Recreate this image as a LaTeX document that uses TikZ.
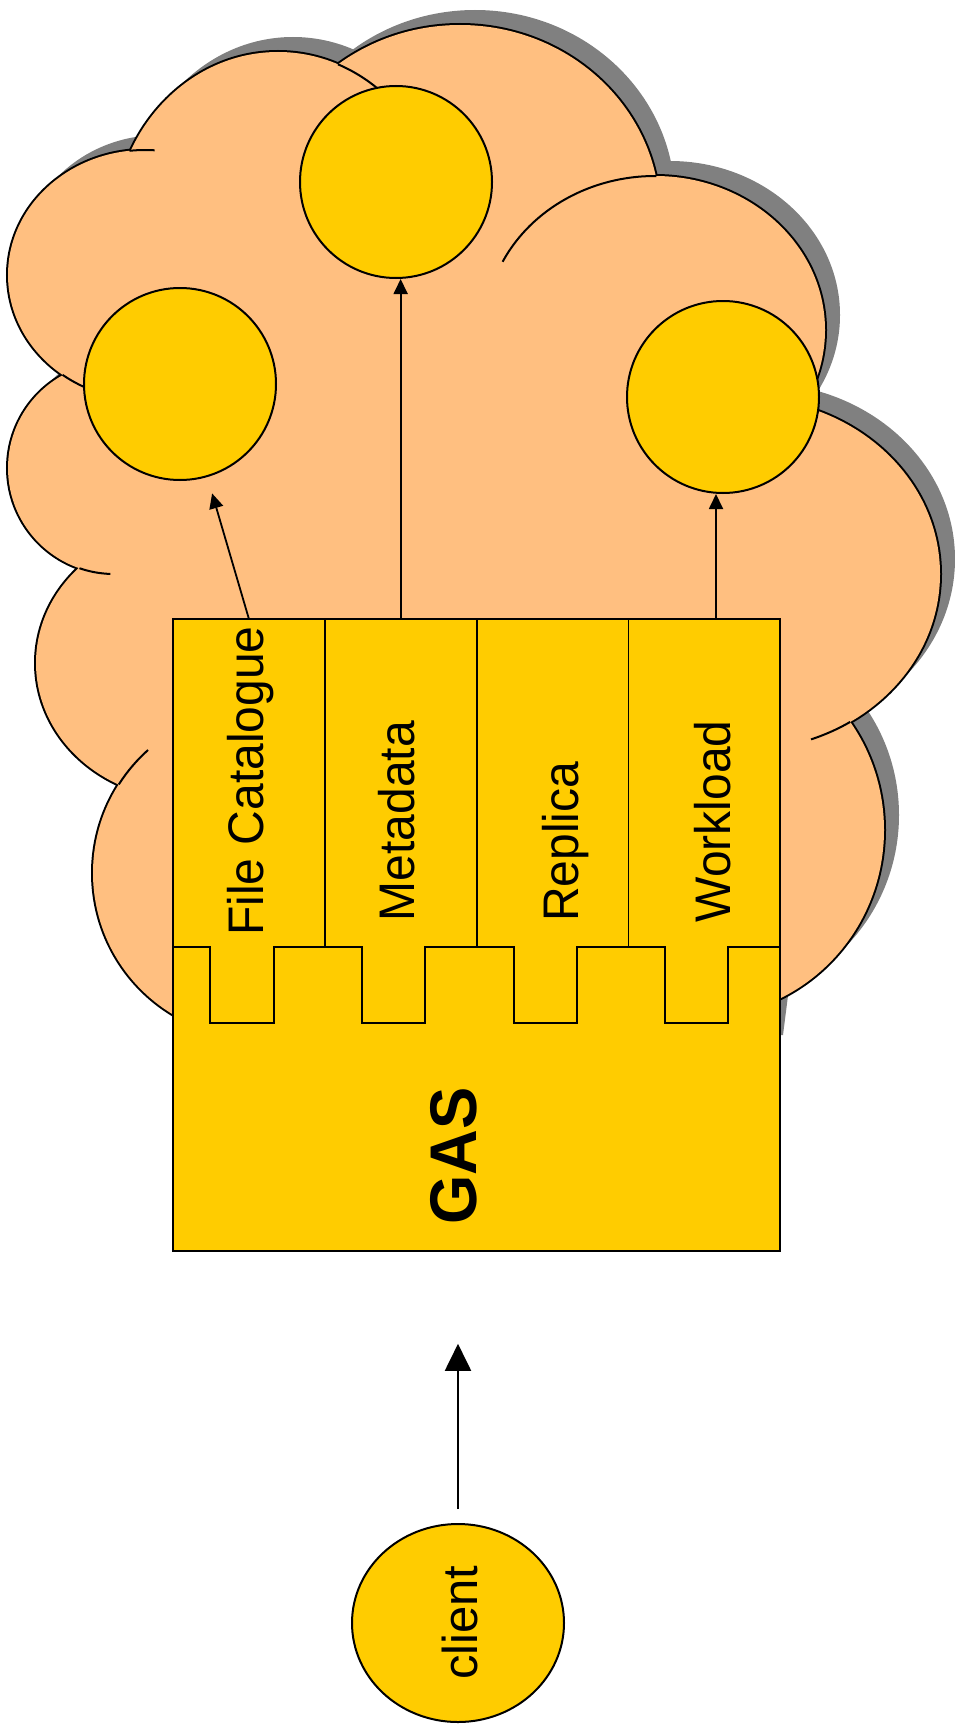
\documentclass[tikz,border=0pt]{standalone}
\usepackage{fontspec}
\setmainfont{Liberation Sans}
\usepackage{graphicx}
\usetikzlibrary{arrows.meta,shapes.geometric}
\definecolor{cloudfill}{RGB}{255,191,128}
\definecolor{gold}{RGB}{255,204,0}
\definecolor{shadowgray}{RGB}{128,128,128}

\newcommand\cloudbumps[1]{%
  \path[#1] (145,275) ellipse[x radius=137, y radius=125];
  \path[#1] (278,232) ellipse[x radius=165, y radius=180];
  \path[#1] (460,215) ellipse[x radius=200, y radius=190];
  \path[#1] (655,330) ellipse[x radius=170, y radius=154];
  \path[#1] (744,574) ellipse[x radius=196, y radius=176];
  \path[#1] (700,830) ellipse[x radius=184, y radius=187];
  \path[#1] (258,873) circle[radius=165];
  \path[#1] (114,468) circle[radius=106];
  \path[#1] (186,663) ellipse[x radius=150, y radius=136];
}
\newcommand\cloudcore[1]{%
  \path[#1] (180,1050) -- (185,1005) -- (140,790) -- (100,570) -- (80,385) -- (140,175) -- (340,85) -- (645,195) -- (790,405) -- (835,722) -- (775,995) -- (768,1050) -- cycle;
}

\tikzset{
  cloudline/.style={draw=black, line width=2pt},
  bead/.style={circle, draw=black, line width=2pt, fill=gold, minimum size=192pt, inner sep=0pt},
  colcell/.style={rectangle, minimum width=151.75pt, minimum height=328pt, inner sep=0pt},
  lbl/.style={rotate=90, anchor=base west, inner sep=0pt, font=\fontsize{50}{60}\selectfont},
  conn/.style={line width=1.8pt, -{Triangle[length=15pt,width=14pt]}},
  bigconn/.style={line width=2pt, -{Triangle[length=27pt,width=26pt]}},
  boxline/.style={line width=1.6pt},
}

\begin{document}
\begin{tikzpicture}[x=1pt,y=-1pt]
\useasboundingbox (0,0) rectangle (954,1731);

% cloud shadow
\begin{scope}[shift={(15,-15)}]
  \cloudbumps{fill=shadowgray}
  \cloudcore{fill=shadowgray}
\end{scope}
% cloud outline (outer half of thick stroke survives)
\cloudbumps{draw=black, line width=4pt}
% cloud fill
\cloudbumps{fill=cloudfill}
\cloudcore{fill=cloudfill}
% inner arcs of the cloud
\draw[cloudline] (145,275) ++(263.5:137 and 125) arc[start angle=263.5, end angle=274, x radius=137, y radius=125];
\draw[cloudline] (145,275) ++(127:137 and 125) arc[start angle=127, end angle=110, x radius=137, y radius=125];
\draw[cloudline] (278,232) ++(-68.7:165 and 180) arc[start angle=-68.7, end angle=-48, x radius=165, y radius=180];
\draw[cloudline] (655,330) ++(270.5:170 and 154) arc[start angle=270.5, end angle=206.3, x radius=170, y radius=154];
\draw[cloudline] (744,574) ++(57.2:196 and 176) arc[start angle=57.2, end angle=70, x radius=196, y radius=176];
\draw[cloudline] (258,873) ++(212.5:165) arc[start angle=212.5, end angle=228.2, radius=165];
\draw[cloudline] (114,468) ++(109:106) arc[start angle=109, end angle=92, radius=106];

% service circles
\node[bead] (mdc) at (396,182) {};
\node[bead] (lc) at (180,384) {};
\node[bead] (rc) at (723,397) {};

% GAS box with service columns
\node[draw=black, line width=1.6pt, fill=gold, minimum width=607pt, minimum height=632pt, inner sep=0pt] (outer) at (476.5,935) {};
\node[colcell] (col1) at (248.875,783) {};
\node[colcell] (col2) at (400.625,783) {};
\node[colcell] (col3) at (552.375,783) {};
\node[colcell] (col4) at (704.125,783) {};
\draw[boxline] (col1.north east) -- (col1.south east);
\draw[boxline] (col2.north east) -- (col2.south east);
\draw[boxline] (col3.north east) -- (col3.south east);
\draw[boxline] (173,947) -- (210,947) -- (210,1023) -- (274,1023) -- (274,947)
  -- (362,947) -- (362,1023) -- (425,1023) -- (425,947)
  -- (514,947) -- (514,1023) -- (577,1023) -- (577,947)
  -- (665,947) -- (665,1023) -- (728,1023) -- (728,947) -- (780,947);

\node[lbl] (tfc) at (263,936) {\scalebox{0.96}[1]{File Catalogue}};
\node[lbl] (tmd) at (414,921.5) {\scalebox{0.96}[1]{Metadata}};
\node[lbl] (trp) at (578,922) {\scalebox{0.96}[1]{Replica}};
\node[lbl] (twl) at (730,922.5) {\scalebox{0.96}[1]{Workload}};
\node[lbl, font=\fontsize{66}{78}\selectfont\bfseries] (tgas) at (476,1225) {\scalebox{0.96}[1]{GAS}};

% client
\node[ellipse, draw=black, line width=2pt, fill=gold, minimum width=212pt, minimum height=198pt, inner sep=0pt] (cl) at (458,1623) {};
\node[lbl, font=\fontsize{49}{58}\selectfont] (tcl) at (477,1680) {client};

% connectors
\draw[conn, shorten >=17pt] (col1.north) -- (lc);
\draw[conn] (col2.north) -- (col2.north |- mdc.south);
\coordinate (wlfoot) at (716,619);
\draw[conn] (wlfoot) -- (wlfoot |- rc.south);
\draw[bigconn, shorten <=14pt, shorten >=92pt] (cl.north) -- (outer.south -| cl.north);
\end{tikzpicture}
\end{document}
